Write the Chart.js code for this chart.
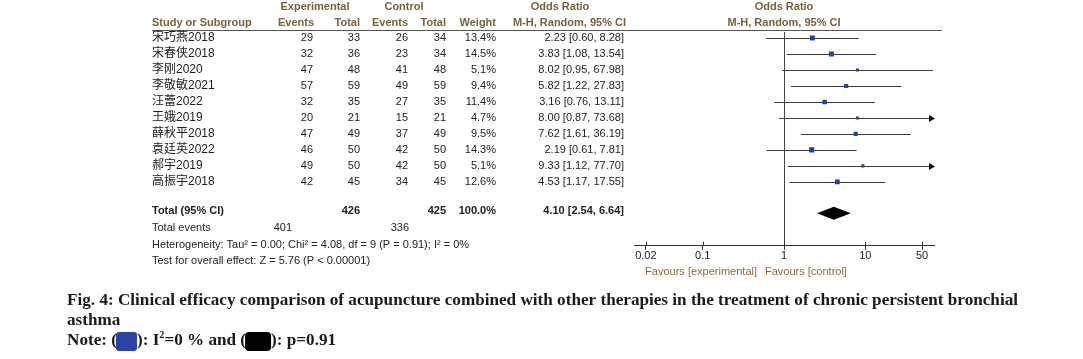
<!DOCTYPE html>
<html>
<head>
<meta charset="utf-8">
<script src="https://cdn.jsdelivr.net/npm/chart.js@4.4.1/dist/chart.umd.min.js"></script>
<style>
html,body{margin:0;padding:0;background:#fff;}
#wrap{position:relative;width:1083px;height:359px;}
</style>
</head>
<body>
<div id="wrap"><canvas id="c"></canvas></div>
<script>
// ---- data ----
const studies = ['宋巧燕2018','宋春侠2018','李刚2020','李敬敏2021','汪蕾2022','王娥2019','薛秋平2018','袁廷英2022','郝宇2019','高振宇2018'];
const expEvents = [29,32,47,57,32,20,47,46,49,42];
const expTotal = [33,36,48,59,35,21,49,50,50,45];
const ctrlEvents = [26,23,41,49,27,15,37,42,42,34];
const ctrlTotal = [34,34,48,59,35,21,49,50,50,45];
const weights = [13.4,14.5,5.1,9.4,11.4,4.7,9.5,14.3,5.1,12.6];
const oddsRatio = [2.23,3.83,8.02,5.82,3.16,8.00,7.62,2.19,9.33,4.53];
const ciLower = [0.60,1.08,0.95,1.22,0.76,0.87,1.61,0.61,1.12,1.17];
const ciUpper = [8.28,13.54,67.98,27.83,13.11,73.68,36.19,7.81,77.70,17.55];
const totalExp = 426, totalCtrl = 425, totalEventsExp = 401, totalEventsCtrl = 336;
const pooled = [4.10, 2.54, 6.64];
const tickValues = [0.02, 0.1, 1, 10, 50];
const tickLabels = ['0.02', '0.1', '1', '10', '50'];

const SANS = '"Liberation Sans", Arial, "Noto Sans CJK SC", sans-serif';
const SERIF = '"Liberation Serif", "Times New Roman", serif';
const HEAD = '#76633c';
const TXT = '#222';

function fmt(v){ return v.toFixed(2); }

const forest = {
  id: 'forest',
  beforeDatasetsDraw(chart){
    const {ctx, chartArea} = chart;
    const x = chart.scales.x, y = chart.scales.y;
    ctx.save();
    ctx.strokeStyle = '#444';
    ctx.lineWidth = 1;
    const x1 = Math.round(x.getPixelForValue(1)) + 0.5;
    ctx.beginPath(); ctx.moveTo(x1, chartArea.top); ctx.lineTo(x1, chartArea.bottom); ctx.stroke();
    for (let i = 0; i < studies.length; i++){
      const yy = Math.round(y.getPixelForValue(i)) + 0.5;
      const lo = Math.max(ciLower[i], x.min), hi = Math.min(ciUpper[i], x.max);
      const xl = x.getPixelForValue(lo), xh = x.getPixelForValue(hi);
      ctx.strokeStyle = '#3a3a3a';
      ctx.beginPath(); ctx.moveTo(xl, yy); ctx.lineTo(xh, yy); ctx.stroke();
      if (ciUpper[i] > x.max){
        ctx.fillStyle = '#111';
        ctx.beginPath(); ctx.moveTo(xh + 1, yy); ctx.lineTo(xh - 5, yy - 3.5); ctx.lineTo(xh - 5, yy + 3.5); ctx.closePath(); ctx.fill();
      }
    }
    // pooled diamond
    const dy = y.getPixelForValue(10.97);
    const dl = x.getPixelForValue(pooled[1]), dc = x.getPixelForValue(pooled[0]), dr = x.getPixelForValue(pooled[2]);
    ctx.fillStyle = '#000';
    ctx.beginPath(); ctx.moveTo(dl, dy); ctx.lineTo(dc, dy - 6.5); ctx.lineTo(dr, dy); ctx.lineTo(dc, dy + 6.5); ctx.closePath(); ctx.fill();
    ctx.restore();
  },
  afterDraw(chart){
    const {ctx, chartArea} = chart;
    const x = chart.scales.x, y = chart.scales.y;
    ctx.save();
    // tick marks above axis
    ctx.strokeStyle = '#333'; ctx.lineWidth = 1;
    tickValues.forEach(v => {
      const px = Math.round(x.getPixelForValue(v)) + 0.5;
      ctx.beginPath(); ctx.moveTo(px, chartArea.bottom - 4); ctx.lineTo(px, chartArea.bottom); ctx.stroke();
    });
    // header line
    ctx.strokeStyle = '#555';
    ctx.beginPath(); ctx.moveTo(152, 30.5); ctx.lineTo(942, 30.5); ctx.stroke();

    // headers
    ctx.fillStyle = HEAD;
    ctx.font = 'bold 11px ' + SANS;
    ctx.textBaseline = 'middle';
    ctx.textAlign = 'center';
    ctx.fillText('Experimental', 315, 7);
    ctx.fillText('Control', 404, 7);
    ctx.fillText('Odds Ratio', 560, 7);
    ctx.fillText('Odds Ratio', x.getPixelForValue(1), 7);
    ctx.fillText('M-H, Random, 95% CI', x.getPixelForValue(1), 23);
    ctx.textAlign = 'left';
    ctx.fillText('Study or Subgroup', 152, 23);
    ctx.textAlign = 'right';
    ctx.fillText('Events', 314, 23);
    ctx.fillText('Total', 360, 23);
    ctx.fillText('Events', 408, 23);
    ctx.fillText('Total', 446, 23);
    ctx.fillText('Weight', 496, 23);
    ctx.fillText('M-H, Random, 95% CI', 626, 23);

    // rows
    ctx.fillStyle = TXT;
    for (let i = 0; i < studies.length; i++){
      const yy = y.getPixelForValue(i);
      ctx.textAlign = 'left';
      ctx.font = '12px ' + SANS;
      ctx.fillText(studies[i], 152, yy);
      ctx.font = '11px ' + SANS;
      ctx.textAlign = 'right';
      ctx.fillText(String(expEvents[i]), 313, yy);
      ctx.fillText(String(expTotal[i]), 360, yy);
      ctx.fillText(String(ctrlEvents[i]), 408, yy);
      ctx.fillText(String(ctrlTotal[i]), 446, yy);
      ctx.fillText(weights[i].toFixed(1) + '%', 496, yy);
      ctx.fillText(fmt(oddsRatio[i]) + ' [' + fmt(ciLower[i]) + ', ' + fmt(ciUpper[i]) + ']', 624, yy);
    }
    // total row
    const ty = y.getPixelForValue(10.8);
    ctx.font = 'bold 11px ' + SANS;
    ctx.textAlign = 'left';
    ctx.fillText('Total (95% CI)', 152, ty);
    ctx.textAlign = 'right';
    ctx.fillText(String(totalExp), 360, ty);
    ctx.fillText(String(totalCtrl), 446, ty);
    ctx.fillText('100.0%', 496, ty);
    ctx.fillText(fmt(pooled[0]) + ' [' + fmt(pooled[1]) + ', ' + fmt(pooled[2]) + ']', 624, ty);

    ctx.font = '11px ' + SANS;
    const ey = y.getPixelForValue(11.9);
    ctx.textAlign = 'left';
    ctx.fillText('Total events', 152, ey);
    ctx.textAlign = 'right';
    ctx.fillText(String(totalEventsExp), 292, ey);
    ctx.fillText(String(totalEventsCtrl), 409, ey);
    ctx.textAlign = 'left';
    ctx.fillText('Heterogeneity: Tau² = 0.00; Chi² = 4.08, df = 9 (P = 0.91); I² = 0%', 152, y.getPixelForValue(12.94));
    ctx.fillText('Test for overall effect: Z = 5.76 (P < 0.00001)', 152, y.getPixelForValue(13.94));

    // favours
    ctx.fillStyle = '#8a6a3e';
    ctx.font = '11px ' + SANS;
    ctx.textAlign = 'right';
    ctx.fillText('Favours [experimental]', 757, 272);
    ctx.textAlign = 'left';
    ctx.fillText('Favours [control]', 765, 272);

    // caption
    const CAP = 'bold 17px ' + SERIF;
    ctx.fillStyle = '#1a1a1a';
    ctx.font = CAP;
    ctx.textAlign = 'left';
    ctx.textBaseline = 'alphabetic';
    const line1 = 'Fig. 4: Clinical efficacy comparison of acupuncture combined with other therapies in the treatment of chronic persistent bronchial';
    const sx = 951 / ctx.measureText(line1).width;
    ctx.save();
    ctx.scale(sx, 1);
    ctx.fillText(line1, 67 / sx, 305);
    ctx.fillText('asthma', 67 / sx, 325);
    let cx = 67;
    const seg = (t) => { ctx.fillText(t, cx / sx, 345); cx += ctx.measureText(t).width * sx; };
    seg('Note: (');
    ctx.restore();
    ctx.fillStyle = '#2a44a6';
    ctx.beginPath(); ctx.roundRect(cx - 1, 332, 21, 19, 3); ctx.fill();
    cx += 20;
    ctx.save(); ctx.scale(sx, 1);
    ctx.fillStyle = '#1a1a1a';
    ctx.font = CAP;
    seg('): I');
    ctx.font = 'bold 10px ' + SERIF;
    ctx.fillText('2', cx / sx, 338); cx += ctx.measureText('2').width * sx;
    ctx.font = CAP;
    seg('=0 % and (');
    ctx.restore();
    ctx.fillStyle = '#000';
    ctx.beginPath(); ctx.roundRect(cx - 1, 332, 26, 19, 4); ctx.fill();
    cx += 25;
    ctx.save(); ctx.scale(sx, 1);
    ctx.fillStyle = '#1a1a1a';
    ctx.font = CAP;
    seg('): p=0.91');
    ctx.restore();

    ctx.restore();
  }
};

new Chart(document.getElementById('c'), {
  type: 'scatter',
  data: {
    datasets: [{
      data: oddsRatio.map((v, i) => ({x: v, y: i})),
      pointStyle: 'rect',
      pointRadius: (c) => Math.sqrt(weights[c.dataIndex] || 1) * 0.95,
      pointBackgroundColor: '#2b3fa0',
      pointBorderWidth: 0,
      pointBorderColor: '#2b3fa0'
    }]
  },
  options: {
    responsive: true,
    maintainAspectRatio: false,
    animation: false,
    events: [],
    layout: { padding: { left: 634, right: 149, top: 32, bottom: 96 } },
    plugins: { legend: { display: false }, tooltip: { enabled: false } },
    scales: {
      x: {
        type: 'logarithmic',
        min: 1 / 70,
        max: 70,
        position: 'bottom',
        afterBuildTicks: (s) => { s.ticks = tickValues.map(v => ({value: v})); },
        ticks: {
          autoSkip: false, maxRotation: 0, padding: 0,
          color: TXT,
          font: { family: SANS, size: 11 },
          callback: (v) => { const k = tickValues.indexOf(v); return k >= 0 ? tickLabels[k] : ''; }
        },
        grid: { display: true, drawOnChartArea: false, drawTicks: true, tickLength: 4, color: '#333' },
        border: { display: true, color: '#333' }
      },
      y: {
        type: 'linear',
        reverse: true,
        min: -0.375,
        max: 13,
        display: false
      }
    }
  },
  plugins: [forest]
});
</script>
</body>
</html>
